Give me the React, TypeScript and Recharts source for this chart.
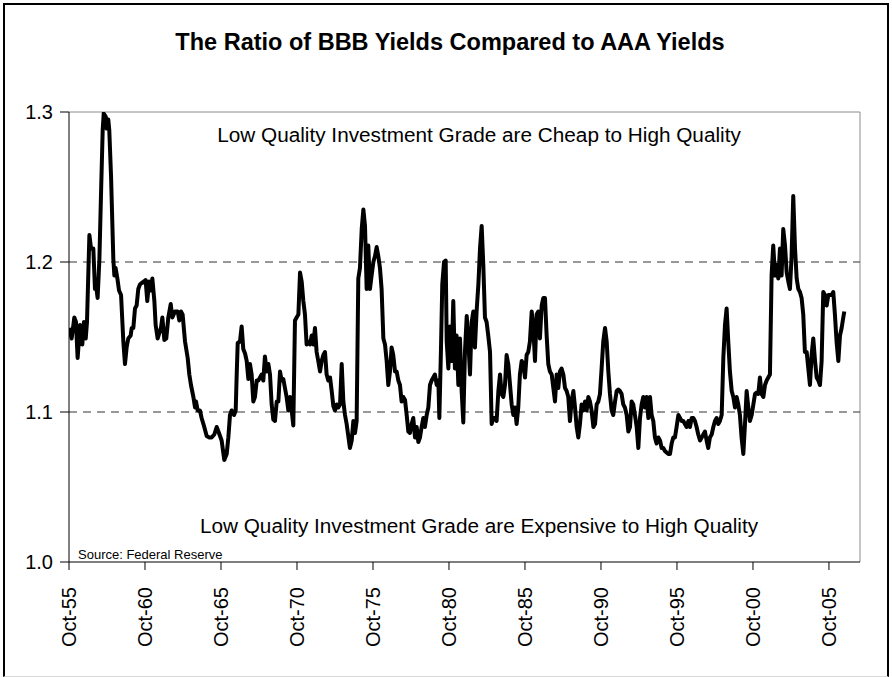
import React from "react";
import { LineChart, Line, XAxis, YAxis, ReferenceLine } from "recharts";

// Months since Oct-1955, BBB/AAA yield ratio
const seg1955: [number, number][] = [
  [0, 1.156], [2.1, 1.149], [4.2, 1.163], [5.5, 1.16], [6.8, 1.136], [8.7, 1.158], [10.5, 1.145],
  [11.8, 1.16], [13.2, 1.149], [14.2, 1.16], [16.1, 1.218], [17.4, 1.209], [19.2, 1.209], [20.5, 1.182],
  [21.0, 1.187], [22.6, 1.176], [24.0, 1.202], [25.3, 1.246], [26.6, 1.288], [27.4, 1.299], [29.0, 1.297],
  [29.7, 1.289], [31.0, 1.295], [31.8, 1.288], [33.2, 1.257], [35.0, 1.202], [35.8, 1.191], [36.8, 1.196],
  [38.2, 1.189], [39.5, 1.181], [41.1, 1.178], [42.9, 1.147], [44.2, 1.132], [45.5, 1.143], [46.8, 1.149],
  [48.7, 1.151], [49.5, 1.156], [50.8, 1.156], [52.1, 1.169], [53.4, 1.171], [54.7, 1.182], [56.0, 1.185],
  [57.4, 1.186], [59.2, 1.187], [60.5, 1.188], [61.8, 1.174], [63.2, 1.187], [64.7, 1.181], [65.8, 1.189],
  [67.4, 1.174], [68.4, 1.158], [70.0, 1.149], [71.8, 1.154], [72.6, 1.156], [73.7, 1.163], [75.3, 1.148],
  [76.8, 1.149], [78.4, 1.163], [80.3, 1.172], [81.6, 1.163], [83.7, 1.167], [85.8, 1.167], [87.1, 1.161],
  [88.4, 1.167], [89.7, 1.165], [91.6, 1.147], [93.7, 1.136], [95.0, 1.125], [96.3, 1.118], [98.2, 1.11],
  [99.5, 1.103], [100.3, 1.107], [101.6, 1.101], [103.4, 1.101], [104.7, 1.096], [106.8, 1.09], [108.7, 1.084],
  [110.8, 1.083], [112.6, 1.083], [114.7, 1.085], [116.6, 1.09], [118.4, 1.086], [120.5, 1.081], [122.6, 1.068],
];

const seg1966: [number, number][] = [
  [124.5, 1.072], [125.8, 1.083], [127.1, 1.098], [128.4, 1.101], [130.3, 1.098], [131.6, 1.101], [132.4, 1.125],
  [133.2, 1.146], [135.0, 1.147], [136.3, 1.157], [137.6, 1.142], [139.0, 1.139], [140.3, 1.134], [141.6, 1.122],
  [142.9, 1.132], [144.2, 1.125], [145.5, 1.107], [146.8, 1.11], [148.2, 1.121], [149.5, 1.121], [150.8, 1.123],
  [152.1, 1.125], [153.4, 1.121], [154.7, 1.137], [156.1, 1.127], [157.4, 1.132], [158.7, 1.125], [160.0, 1.105],
  [161.3, 1.095], [162.6, 1.094], [164.0, 1.107], [165.3, 1.107], [166.6, 1.127], [167.9, 1.121], [169.2, 1.122],
  [170.5, 1.116], [171.8, 1.11], [173.2, 1.101], [174.5, 1.11], [175.8, 1.101], [177.1, 1.091], [178.4, 1.161],
  [179.7, 1.163], [181.1, 1.165], [182.4, 1.193], [183.7, 1.187], [185.0, 1.174], [186.3, 1.165], [187.6, 1.145],
  [188.9, 1.147], [190.3, 1.145], [191.6, 1.151], [192.9, 1.145], [194.2, 1.156], [195.5, 1.14], [196.8, 1.134],
  [198.2, 1.127], [199.5, 1.134], [200.8, 1.138], [202.1, 1.14], [203.4, 1.125], [204.7, 1.121], [206.1, 1.123],
  [207.4, 1.114], [208.7, 1.104], [210.0, 1.101], [211.3, 1.105], [212.6, 1.103], [214.0, 1.105], [215.3, 1.132],
  [216.6, 1.107], [217.9, 1.098], [219.2, 1.092], [220.5, 1.084], [221.8, 1.076], [223.2, 1.081], [224.5, 1.094],
  [225.8, 1.086], [227.1, 1.094], [228.4, 1.189], [229.7, 1.196], [231.1, 1.222], [232.4, 1.235], [233.7, 1.224],
  [235.0, 1.182], [236.3, 1.211], [237.6, 1.182], [238.9, 1.191], [240.3, 1.2], [241.6, 1.204], [242.9, 1.21],
  [244.2, 1.204], [245.5, 1.196], [246.8, 1.182], [248.2, 1.149], [249.5, 1.145],
];

const seg1976: [number, number][] = [
  [250.8, 1.134], [252.1, 1.118], [253.4, 1.127], [254.7, 1.143], [256.0, 1.138], [257.4, 1.127], [258.7, 1.127],
  [260.0, 1.121], [261.3, 1.118], [262.6, 1.107], [263.9, 1.11], [265.3, 1.108], [266.6, 1.098], [267.9, 1.087],
  [269.2, 1.086], [270.5, 1.092], [271.8, 1.096], [273.2, 1.083], [274.5, 1.09], [275.8, 1.08], [277.1, 1.083],
  [278.4, 1.09], [279.7, 1.096], [281.0, 1.09], [282.4, 1.098], [283.7, 1.103], [285.0, 1.118], [286.3, 1.121],
  [287.6, 1.123], [288.9, 1.125], [290.3, 1.118], [291.6, 1.121], [292.4, 1.096], [293.7, 1.143], [294.7, 1.185],
  [296.1, 1.2], [297.4, 1.201], [298.2, 1.147], [299.5, 1.129], [300.8, 1.157], [302.1, 1.134], [303.4, 1.174],
  [304.7, 1.129], [306.0, 1.151], [307.4, 1.118], [308.7, 1.149], [310.0, 1.114], [311.3, 1.093], [312.6, 1.14],
  [314.0, 1.164], [315.3, 1.147], [316.6, 1.125], [317.9, 1.16], [319.2, 1.167], [320.5, 1.143], [321.8, 1.167],
  [323.2, 1.185], [324.5, 1.209], [325.8, 1.224], [327.1, 1.198], [328.4, 1.163], [329.7, 1.16], [331.0, 1.151],
  [332.4, 1.14], [333.7, 1.092], [335.0, 1.096], [336.3, 1.096], [337.6, 1.094], [339.0, 1.114], [340.3, 1.125],
  [341.6, 1.112], [342.9, 1.11], [344.2, 1.118], [345.5, 1.138], [346.8, 1.132], [348.2, 1.118], [349.5, 1.105],
  [350.8, 1.098], [352.1, 1.103], [353.4, 1.092], [354.7, 1.103], [356.0, 1.125], [357.4, 1.134], [358.7, 1.132],
  [360.0, 1.123], [361.3, 1.138], [362.6, 1.14], [363.9, 1.147], [365.3, 1.167], [366.6, 1.156], [367.9, 1.134],
  [369.2, 1.165], [370.5, 1.167], [371.8, 1.149], [373.2, 1.171], [374.5, 1.176], [375.8, 1.176],
];

const seg1987: [number, number][] = [
  [377.1, 1.151], [378.4, 1.132], [379.7, 1.127], [381.1, 1.125], [382.4, 1.116], [383.7, 1.107], [385.0, 1.125],
  [386.3, 1.116], [387.6, 1.127], [388.9, 1.129], [390.3, 1.125], [391.6, 1.116], [392.9, 1.114], [394.2, 1.11],
  [395.5, 1.094], [396.8, 1.107], [398.2, 1.114], [399.5, 1.103], [400.8, 1.09], [402.1, 1.083], [403.4, 1.092],
  [404.7, 1.105], [406.1, 1.101], [407.4, 1.107], [408.7, 1.101], [410.0, 1.11], [411.3, 1.107], [412.6, 1.101],
  [414.0, 1.09], [415.3, 1.092], [416.6, 1.105], [417.9, 1.107], [419.2, 1.112], [420.5, 1.129], [421.8, 1.147],
  [423.2, 1.156], [424.5, 1.147], [425.8, 1.127], [427.1, 1.112], [428.4, 1.101], [429.7, 1.098], [431.1, 1.107],
  [432.4, 1.114], [433.7, 1.115], [435.0, 1.114], [436.3, 1.112], [437.6, 1.105], [438.9, 1.103], [440.3, 1.098],
  [441.6, 1.087], [442.9, 1.09], [444.2, 1.107], [445.5, 1.105], [446.8, 1.098], [448.2, 1.09], [449.5, 1.076],
  [450.8, 1.096], [452.1, 1.105], [453.4, 1.11], [454.7, 1.103], [456.0, 1.11], [457.4, 1.096], [458.7, 1.11],
  [460.0, 1.098], [461.3, 1.094], [462.6, 1.083], [463.9, 1.079], [465.3, 1.083], [466.6, 1.081], [467.9, 1.076],
  [469.2, 1.076], [470.5, 1.074], [471.8, 1.073], [473.2, 1.072], [474.5, 1.072], [475.8, 1.079], [477.1, 1.083],
  [478.4, 1.083], [479.7, 1.09], [481.1, 1.098], [482.4, 1.096], [483.7, 1.094], [485.0, 1.094], [486.3, 1.092],
  [487.6, 1.09], [489.0, 1.094], [490.3, 1.09], [491.6, 1.096], [492.9, 1.096], [494.2, 1.094], [495.5, 1.09],
  [496.8, 1.085], [498.2, 1.081], [499.5, 1.083], [500.8, 1.085], [502.1, 1.087],
];

const seg1997: [number, number][] = [
  [503.4, 1.081], [504.7, 1.076], [506.0, 1.083], [507.4, 1.085], [508.7, 1.09], [510.0, 1.094], [511.3, 1.096],
  [512.6, 1.092], [513.9, 1.094], [515.3, 1.098], [516.6, 1.136], [517.9, 1.158], [519.2, 1.169], [520.5, 1.147],
  [521.8, 1.127], [523.2, 1.114], [524.5, 1.11], [525.8, 1.103], [527.1, 1.11], [528.4, 1.105], [529.7, 1.098],
  [531.0, 1.083], [532.4, 1.072], [533.7, 1.092], [535.0, 1.114], [536.3, 1.103], [537.6, 1.094], [539.0, 1.098],
  [540.3, 1.105], [541.6, 1.112], [542.9, 1.113], [544.2, 1.112], [545.5, 1.123], [546.8, 1.112], [548.2, 1.11],
  [549.5, 1.118], [550.8, 1.121], [552.1, 1.123], [553.4, 1.125], [554.7, 1.191], [556.0, 1.211], [557.4, 1.191],
  [558.7, 1.198], [560.0, 1.189], [561.3, 1.209], [562.6, 1.191], [563.9, 1.222], [565.3, 1.211], [566.6, 1.193],
  [567.9, 1.187], [569.2, 1.182], [570.5, 1.204], [571.8, 1.244], [573.2, 1.209], [574.5, 1.189], [575.8, 1.182],
  [577.1, 1.18], [578.4, 1.176], [579.7, 1.165], [581.0, 1.14], [582.4, 1.14], [583.7, 1.129], [585.0, 1.118],
  [586.3, 1.138], [587.6, 1.149], [589.0, 1.134], [590.3, 1.123], [591.6, 1.121], [592.9, 1.118], [594.2, 1.134],
  [595.5, 1.18], [596.8, 1.178], [598.2, 1.171], [599.5, 1.178], [600.8, 1.178], [602.1, 1.178], [603.4, 1.18],
  [604.7, 1.165], [606.0, 1.147], [607.4, 1.134], [608.7, 1.151], [610.0, 1.156], [611.3, 1.163], [612.1, 1.167],
];

const tickLabels = ["Oct-55", "Oct-60", "Oct-65", "Oct-70", "Oct-75", "Oct-80", "Oct-85", "Oct-90", "Oct-95", "Oct-00", "Oct-05"];
const tickMonths = tickLabels.map((_, i) => i * 60);
const yTicks = [1.0, 1.1, 1.2, 1.3];
const dashedLevels = [1.1, 1.2];

const title = "The Ratio of BBB Yields Compared to AAA Yields";
const cheapNote = "Low Quality Investment Grade are Cheap to High Quality";
const expensiveNote = "Low Quality Investment Grade are Expensive to High Quality";
const sourceNote = "Source: Federal Reserve";

const data = [...seg1955, ...seg1966, ...seg1976, ...seg1987, ...seg1997].map(([m, v]) => ({ m, v }));

const FONT = "'Liberation Sans', Arial, Helvetica, sans-serif";
const X_MAX = 624.5;

const XTick = (props: any) => {
  const { x, y, payload } = props;
  const idx = tickMonths.indexOf(payload.value);
  const label = idx >= 0 ? tickLabels[idx] : "";
  const ay = y + 15;
  return (
    <text
      x={x}
      y={ay}
      transform={`rotate(-90 ${x} ${ay})`}
      textAnchor="end"
      dy="0.36em"
      fontSize={20}
      fontFamily={FONT}
      fill="#000"
    >
      {label}
    </text>
  );
};

export default function App() {
  return (
    <div style={{ position: "absolute", left: 0, top: 0, width: 892, height: 677, background: "#fff" }}>
      <div
        style={{
          position: "absolute",
          left: 3,
          top: 3,
          width: 886,
          height: 674,
          boxSizing: "border-box",
          borderLeft: "2px solid #000",
          borderTop: "2px solid #000",
          borderRight: "2px solid #000",
          borderBottom: "1px solid #d8d8d8",
        }}
      />
      <div style={{ position: "absolute", left: 0, top: 0 }}>
        <LineChart width={892} height={677} data={data} margin={{ top: 112, right: 32, left: 0, bottom: 0 }}>
          <XAxis
            dataKey="m"
            type="number"
            domain={[0, X_MAX]}
            ticks={tickMonths}
            interval={0}
            height={115}
            tickSize={8}
            tickMargin={2}
            stroke="#000"
            tick={<XTick />}
            allowDataOverflow
          />
          <YAxis
            type="number"
            domain={[1.0, 1.3]}
            ticks={yTicks}
            interval={0}
            width={69}
            tickSize={9}
            tickMargin={7}
            stroke="#000"
            tickFormatter={(v: number) => v.toFixed(1)}
            tick={{ fontSize: 20, fill: "#000", fontFamily: FONT }}
            allowDataOverflow
          />
          <ReferenceLine y={1.3} stroke="#8c8c8c" strokeWidth={1} />
          <ReferenceLine x={X_MAX} stroke="#8c8c8c" strokeWidth={1} />
          {dashedLevels.map((lv) => (
            <ReferenceLine key={lv} y={lv} stroke="#333" strokeWidth={1} strokeDasharray="8 6" />
          ))}
          <Line
            type="linear"
            dataKey="v"
            stroke="#000"
            strokeWidth={4}
            strokeLinejoin="round"
            dot={false}
            activeDot={false}
            isAnimationActive={false}
          />
        </LineChart>
      </div>
      <svg
        width={892}
        height={677}
        style={{ position: "absolute", left: 0, top: 0, pointerEvents: "none" }}
      >
        <text x={450} y={50} textAnchor="middle" fontSize={23.5} fontWeight="bold" fontFamily={FONT} fill="#000">
          {title}
        </text>
        <text x={479} y={142} textAnchor="middle" fontSize={20.75} fontFamily={FONT} fill="#000">
          {cheapNote}
        </text>
        <text x={479} y={533} textAnchor="middle" fontSize={20.75} fontFamily={FONT} fill="#000">
          {expensiveNote}
        </text>
        <text x={78} y={559} textAnchor="start" fontSize={13} fontFamily={FONT} fill="#000">
          {sourceNote}
        </text>
      </svg>
    </div>
  );
}
